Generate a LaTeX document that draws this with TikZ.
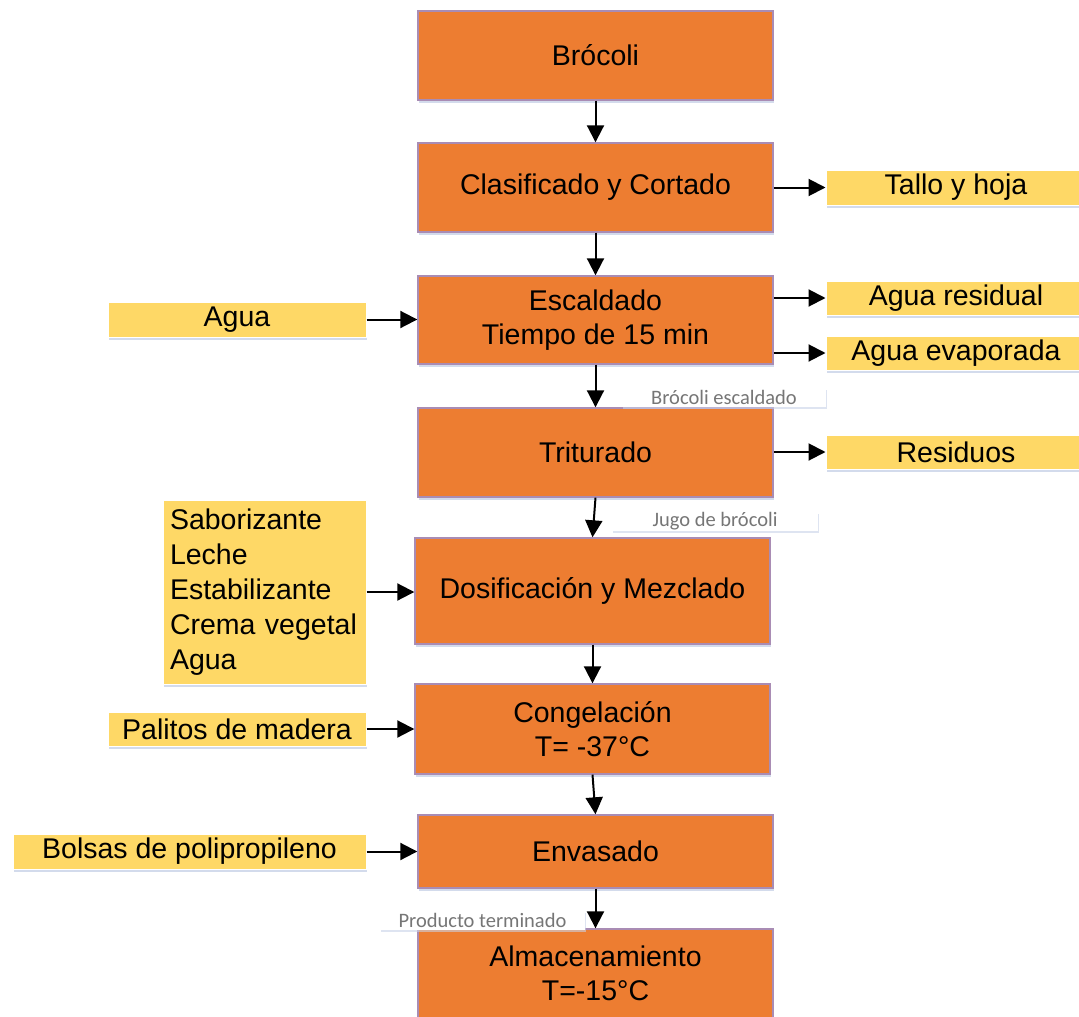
\documentclass[tikz,border=0pt]{standalone}
\usepackage{fontspec}
\setmainfont{Liberation Sans}
\newfontfamily\labelfont{Carlito}
\usetikzlibrary{arrows.meta,shadows}

\definecolor{procfill}{HTML}{ED7D31}
\definecolor{procedge}{HTML}{A98CB4}
\definecolor{inpfill}{HTML}{FED866}
\definecolor{notetext}{HTML}{767676}
\definecolor{shade}{HTML}{C9D3E8}

\tikzset{
  softshadow/.style={drop shadow={fill=shade, opacity=0.8, shadow xshift=1pt, shadow yshift=-3pt}},
  proc/.style={draw=procedge, line width=1.4pt, fill=procfill, inner sep=0pt,
    minimum width=355pt, align=center, softshadow,
    font=\fontsize{28.5}{34}\selectfont},
  inp/.style={draw=white, line width=1pt, fill=inpfill, inner sep=0pt,
    align=center, softshadow, font=\fontsize{28.5}{34}\selectfont},
  note/.style={fill=white, inner sep=0pt, minimum height=19pt, text=notetext,
    drop shadow={fill=shade, opacity=0.6, shadow xshift=1pt, shadow yshift=-2pt},
    font=\labelfont\fontsize{20.5}{21}\selectfont},
  arr/.style={line width=2pt, -{Triangle[length=17pt,width=17pt]}}
}

\begin{document}
\begin{tikzpicture}[x=1pt,y=-1pt]
\useasboundingbox (0,0) rectangle (1079,1017);
\clip (0,0) rectangle (1079,1017);
\fill[white] (0,0) rectangle (1079,1017);

% main process chain
\node[proc, minimum height=89pt] (b1) at (595.5,55.5) {Brócoli};
\node[proc, minimum height=89pt] (b2) at (595.5,187.5) {Clasificado y Cortado};
\node[proc, minimum height=88pt] (b3) at (595.5,320) {Escaldado\\Tiempo de 15 min};
\node[proc, minimum height=89pt] (b4) at (595.5,452.5) {Triturado};
\node[proc, minimum height=106pt] (b5) at (592.5,591) {Dosificación y Mezclado};
\node[proc, minimum height=90pt] (b6) at (592.5,729) {Congelación\\T= -37°C};
\node[proc, minimum height=73pt] (b7) at (595.5,851.5) {Envasado};
\node[proc, minimum height=89pt] (b8) at (595.5,973.5) {Almacenamiento\\T=-15°C};

% outputs on the right
\node[inp, minimum width=260pt, minimum height=35pt] (o1) at (956,187.5) {Tallo y hoja};
\node[inp, minimum width=260pt, minimum height=34pt] (o2) at (956,298) {Agua residual};
\node[inp, minimum width=260pt, minimum height=34pt] (o3) at (956,353) {Agua evaporada};
\node[inp, minimum width=260pt, minimum height=34pt] (o4) at (956,452) {Residuos};

% inputs on the left
\node[inp, minimum width=258pt, minimum height=35pt] (i1) at (237,319.5) {Agua};
\node[inp, align=left, text width=189pt, inner xsep=7pt, minimum height=184pt,
      font=\fontsize{28.5}{35}\selectfont] (i2) at (264.5,592)
  {Saborizante\\Leche\\Estabilizante\\Crema vegetal\\Agua};
\node[inp, minimum width=258pt, minimum height=34pt] (i3) at (237,729) {Palitos de madera};
\node[inp, minimum width=353pt, minimum height=35pt] (i4) at (189.5,851.5) {Bolsas de polipropileno};

% main flow
\draw[arr] (b1.south) -- (b2.north);
\draw[arr] (b2.south) -- (b3.north);
\draw[arr] (b3.south) -- (b4.north);
\draw[arr] (b4.south) -- (b5.north);
\draw[arr] (b5.south) -- (b6.north);
\draw[arr] (b6.south) -- (b7.north);
\draw[arr] (b7.south) -- (b8.north);

% side streams
\draw[arr] (b2.east) -- (o1.west);
\draw[arr] (b3.east |- o2.west) -- (o2.west);
\draw[arr] (b3.east |- o3.west) -- (o3.west);
\draw[arr] (b4.east |- o4.west) -- (o4.west);
\draw[arr] (i1.east) -- (i1.east -| b3.west);
\draw[arr] (i2.east) -- (i2.east -| b5.west);
\draw[arr] (i3.east) -- (i3.east -| b6.west);
\draw[arr] (i4.east) -- (i4.east -| b7.west);

% intermediate product labels
\node[note, minimum width=204pt] (n1) at (724,397.5) {Brócoli escaldado};
\node[note, minimum width=206pt] (n2) at (715,521.5) {Jugo de brócoli};
\node[note, minimum width=205pt] (n3) at (482.5,920) {Producto terminado};
\end{tikzpicture}
\end{document}
